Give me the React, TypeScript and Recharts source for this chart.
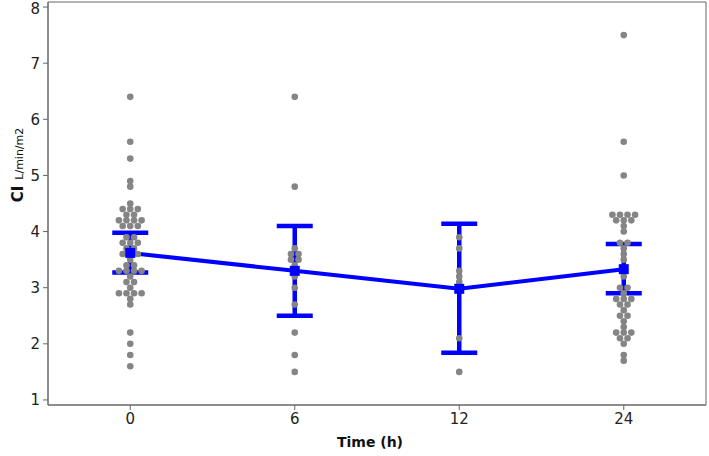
import React from "react";
import {
  ComposedChart,
  Scatter,
  Line,
  ErrorBar,
  XAxis,
  YAxis,
  ReferenceArea,
} from "recharts";

const timeLabels = ["0", "6", "12", "24"];

const values0 = [
  6.4, 5.6, 5.3, 4.9, 4.8, 4.5, 4.4, 4.4, 4.4, 4.3, 4.3, 4.2, 4.2, 4.2, 4.2,
  4.1, 4.1, 4.1, 3.9, 3.9, 3.8, 3.8, 3.8, 3.7, 3.7, 3.6, 3.6, 3.6, 3.5, 3.4,
  3.4, 3.3, 3.3, 3.3, 3.3, 3.2, 3.1, 3.1, 3.0, 2.9, 2.9, 2.9, 2.9, 2.8, 2.7,
  2.2, 2.0, 1.8, 1.6,
];
const values6 = [6.4, 4.8, 3.7, 3.6, 3.6, 3.5, 3.5, 3.4, 3.2, 3.0, 2.7, 2.2, 1.8, 1.5];
const values12 = [3.9, 3.7, 3.3, 3.2, 3.1, 3.0, 2.1, 1.5];
const values24 = [
  7.5, 5.6, 5.0, 4.3, 4.3, 4.3, 4.3, 4.2, 4.2, 4.2, 4.1, 4.0, 3.8, 3.8, 3.7,
  3.6, 3.5, 3.3, 3.2, 3.0, 3.0, 2.9, 2.8, 2.8, 2.8, 2.7, 2.7, 2.6, 2.5, 2.5,
  2.4, 2.3, 2.2, 2.2, 2.2, 2.1, 2.1, 2.0, 1.8, 1.7,
];

const means = [3.62, 3.3, 2.98, 3.33];
const errLow = [0.35, 0.8, 1.14, 0.43];
const errHigh = [0.36, 0.8, 1.16, 0.45];

const yTicks = [1, 2, 3, 4, 5, 6, 7, 8];
const Y_MIN = 0.91;
const Y_MAX = 8.09;

const groups = [values0, values6, values12, values24];
const STEP = 0.046;

const dotPoints: { x: number; y: number }[] = [];
groups.forEach((vals, gi) => {
  const counts: Record<string, number> = {};
  vals.forEach((v) => {
    const k = v.toFixed(1);
    counts[k] = (counts[k] || 0) + 1;
  });
  Object.keys(counts).forEach((k) => {
    const n = counts[k];
    for (let i = 0; i < n; i++) {
      dotPoints.push({ x: gi + (i - (n - 1) / 2) * STEP, y: parseFloat(k) });
    }
  });
});

const meanData = means.map((m, i) => ({
  x: i,
  y: m,
  err: [errLow[i], errHigh[i]],
}));

const AXIS = "#666666";
const FONT = "'DejaVu Sans', Verdana, sans-serif";

const GrayDot = (p: any) => (
  <circle cx={p.cx} cy={p.cy} r={3.3} fill="#858585" />
);

const MeanSquare = (p: any) => (
  <rect x={p.cx - 5} y={p.cy - 5} width={10} height={10} fill="#0000ff" />
);

export default function App() {
  return (
    <div style={{ position: "absolute", left: 0, top: 0, background: "#fff" }}>
      <ComposedChart
        width={709}
        height={456}
        margin={{ top: 2, right: 3, bottom: 0, left: 0 }}
      >
        <XAxis
          dataKey="x"
          type="number"
          domain={[-0.5, 3.5]}
          ticks={[0, 1, 2, 3]}
          tickFormatter={(v: number) => timeLabels[v]}
          allowDataOverflow
          height={51}
          stroke={AXIS}
          tickSize={5}
          tickMargin={3}
          tick={{ fill: "#222", fontSize: 15, fontFamily: FONT }}
          label={{
            content: () => (
              <text
                x={370}
                y={447}
                textAnchor="middle"
                fontFamily={FONT}
                fontWeight="bold"
                fontSize={14}
                fill="#111"
              >
                Time (h)
              </text>
            ),
          }}
        />
        <YAxis
          type="number"
          domain={[Y_MIN, Y_MAX]}
          ticks={yTicks}
          allowDataOverflow
          width={48}
          stroke={AXIS}
          tickSize={5}
          tickMargin={3}
          tick={{ fill: "#222", fontSize: 15, fontFamily: FONT }}
          label={{
            content: () => (
              <text
                x={0}
                y={0}
                transform="translate(23,165) rotate(-90)"
                textAnchor="middle"
                fontFamily={FONT}
                fill="#111"
              >
                <tspan fontWeight="bold" fontSize={15}>CI</tspan>
                <tspan fontSize={11} dx={6}>L/min/m2</tspan>
              </text>
            ),
          }}
        />
        <ReferenceArea
          x1={-0.5}
          x2={3.5}
          y1={Y_MIN}
          y2={Y_MAX}
          fill="none"
          fillOpacity={0}
          stroke={AXIS}
          strokeWidth={1}
          ifOverflow="visible"
        />
        <Scatter
          data={dotPoints}
          dataKey="y"
          shape={GrayDot}
          isAnimationActive={false}
        />
        <Line
          data={meanData}
          dataKey="y"
          stroke="#0000ff"
          strokeWidth={4}
          dot={MeanSquare}
          activeDot={false}
          isAnimationActive={false}
        >
          <ErrorBar
            dataKey="err"
            direction="y"
            width={18}
            stroke="#0000ff"
            strokeWidth={4.5}
            isAnimationActive={false}
          />
        </Line>
      </ComposedChart>
    </div>
  );
}
